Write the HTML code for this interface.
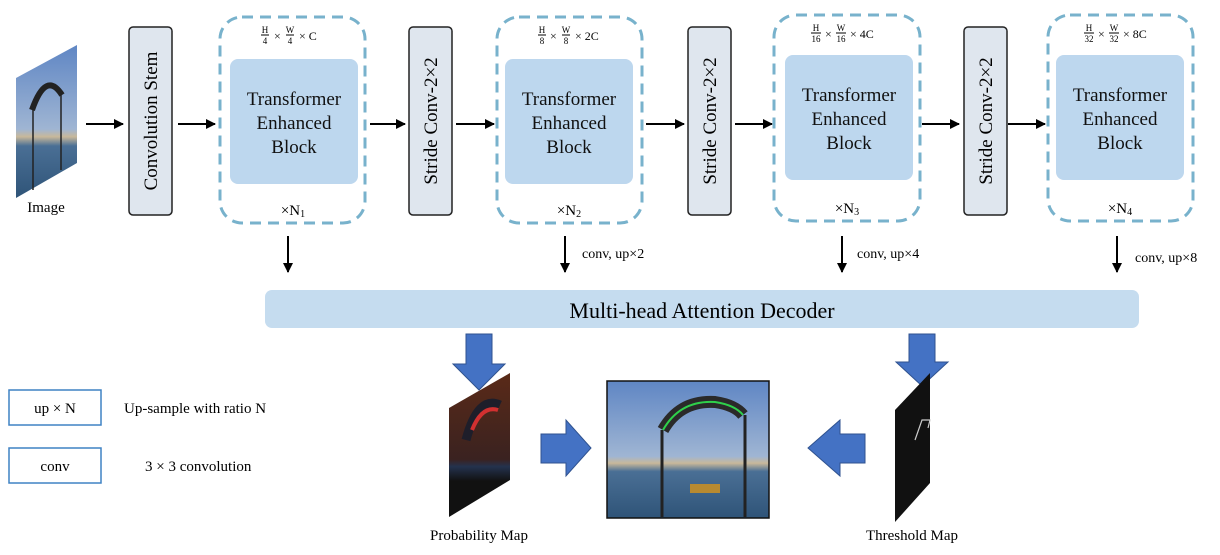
<!DOCTYPE html>
<html><head><meta charset="utf-8"><style>
html,body{margin:0;padding:0;background:#fff;}
svg{display:block;font-family:"Liberation Serif",serif;}
</style></head><body>
<svg width="1220" height="555" viewBox="0 0 1220 555" xmlns="http://www.w3.org/2000/svg">
<defs>
<marker id="ah" markerWidth="10" markerHeight="10" refX="9" refY="5" orient="auto" markerUnits="userSpaceOnUse">
<path d="M0,0 L10,5 L0,10 z" fill="#000"/></marker>
<linearGradient id="sky" x1="0" y1="0" x2="0" y2="1">
<stop offset="0" stop-color="#5f86c4"/><stop offset="0.55" stop-color="#9fb5d3"/><stop offset="0.6" stop-color="#c8b89a"/><stop offset="0.66" stop-color="#4a6f95"/><stop offset="1" stop-color="#2f5478"/></linearGradient>
<linearGradient id="prob" x1="0" y1="0" x2="0" y2="1">
<stop offset="0" stop-color="#5a2a18"/><stop offset="0.6" stop-color="#3a2220"/><stop offset="0.65" stop-color="#24324e"/><stop offset="0.75" stop-color="#111"/><stop offset="1" stop-color="#111"/></linearGradient>
</defs>

<!-- input image -->
<polygon points="16,78 77,45 77,163 16,198" fill="url(#sky)"/>
<path d="M32,110 Q46,70 62,95" stroke="#222" stroke-width="6" fill="none"/>
<line x1="33" y1="110" x2="33" y2="190" stroke="#222" stroke-width="1.5"/>
<line x1="61" y1="95" x2="61" y2="170" stroke="#222" stroke-width="1.5"/>
<text x="46" y="212" font-size="15" text-anchor="middle">Image</text>

<!-- arrows top -->
<g stroke="#000" stroke-width="2" marker-end="url(#ah)">
<line x1="86" y1="124" x2="123" y2="124"/>
<line x1="178" y1="124" x2="215" y2="124"/>
<line x1="370" y1="124" x2="405" y2="124"/>
<line x1="456" y1="124" x2="494" y2="124"/>
<line x1="646" y1="124" x2="684" y2="124"/>
<line x1="735" y1="124" x2="772" y2="124"/>
<line x1="922" y1="124" x2="959" y2="124"/>
<line x1="1008" y1="124" x2="1045" y2="124"/>
<line x1="288" y1="236" x2="288" y2="272"/>
<line x1="565" y1="236" x2="565" y2="272"/>
<line x1="842" y1="236" x2="842" y2="272"/>
<line x1="1117" y1="236" x2="1117" y2="272"/>
</g>

<!-- vertical boxes -->
<g fill="#dfe6ee" stroke="#222" stroke-width="1.5">
<rect x="129" y="27" width="43" height="188" rx="4"/>
<rect x="409" y="27" width="43" height="188" rx="4"/>
<rect x="688" y="27" width="43" height="188" rx="4"/>
<rect x="964" y="27" width="43" height="188" rx="4"/>
</g>
<g font-size="19" text-anchor="middle">
<text transform="translate(157,121) rotate(-90)">Convolution Stem</text>
<text transform="translate(437,121) rotate(-90)">Stride Conv-2×2</text>
<text transform="translate(716,121) rotate(-90)">Stride Conv-2×2</text>
<text transform="translate(992,121) rotate(-90)">Stride Conv-2×2</text>
</g>

<!-- dashed boxes -->
<g fill="none" stroke="#78b2cc" stroke-width="3" stroke-dasharray="11,7">
<rect x="220" y="17" width="145" height="206" rx="22"/>
<rect x="497" y="17" width="145" height="206" rx="22"/>
<rect x="774" y="15" width="146" height="206" rx="22"/>
<rect x="1048" y="15" width="145" height="206" rx="22"/>
</g>
<g fill="#bdd7ee">
<rect x="230" y="59" width="128" height="125" rx="8"/>
<rect x="505" y="59" width="128" height="125" rx="8"/>
<rect x="785" y="55" width="128" height="125" rx="8"/>
<rect x="1056" y="55" width="128" height="125" rx="8"/>
</g>
<g font-size="19" text-anchor="middle" fill="#111">
<text x="294" y="105">Transformer</text><text x="294" y="129">Enhanced</text><text x="294" y="153">Block</text>
<text x="569" y="105">Transformer</text><text x="569" y="129">Enhanced</text><text x="569" y="153">Block</text>
<text x="849" y="101">Transformer</text><text x="849" y="125">Enhanced</text><text x="849" y="149">Block</text>
<text x="1120" y="101">Transformer</text><text x="1120" y="125">Enhanced</text><text x="1120" y="149">Block</text>
</g>
<!-- fractions -->
<g font-size="9" text-anchor="middle">
<text x="265" y="33">H</text><line x1="261" y1="35" x2="269" y2="35" stroke="#000"/><text x="265" y="44">4</text>
<text x="290" y="33">W</text><line x1="286" y1="35" x2="294" y2="35" stroke="#000"/><text x="290" y="44">4</text>
<text x="542" y="33">H</text><line x1="538" y1="35" x2="546" y2="35" stroke="#000"/><text x="542" y="44">8</text>
<text x="566" y="33">W</text><line x1="562" y1="35" x2="570" y2="35" stroke="#000"/><text x="566" y="44">8</text>
<text x="816" y="31">H</text><line x1="811" y1="33" x2="821" y2="33" stroke="#000"/><text x="816" y="42">16</text>
<text x="841" y="31">W</text><line x1="836" y1="33" x2="846" y2="33" stroke="#000"/><text x="841" y="42">16</text>
<text x="1089" y="31">H</text><line x1="1084" y1="33" x2="1094" y2="33" stroke="#000"/><text x="1089" y="42">32</text>
<text x="1114" y="31">W</text><line x1="1109" y1="33" x2="1119" y2="33" stroke="#000"/><text x="1114" y="42">32</text>
</g>
<g font-size="12">
<text x="274" y="40">×</text><text x="299" y="40">× C</text>
<text x="550" y="40">×</text><text x="575" y="40">× 2C</text>
<text x="825" y="38">×</text><text x="850" y="38">× 4C</text>
<text x="1098" y="38">×</text><text x="1123" y="38">× 8C</text>
</g>
<g font-size="15" text-anchor="middle">
<text x="293" y="215">×N<tspan font-size="10" dy="2">1</tspan></text>
<text x="569" y="215">×N<tspan font-size="10" dy="2">2</tspan></text>
<text x="847" y="213">×N<tspan font-size="10" dy="2">3</tspan></text>
<text x="1120" y="213">×N<tspan font-size="10" dy="2">4</tspan></text>
</g>
<g font-size="14">
<text x="582" y="258">conv, up×2</text>
<text x="857" y="258">conv, up×4</text>
<text x="1135" y="262">conv, up×8</text>
</g>

<!-- decoder -->
<rect x="265" y="290" width="874" height="38" rx="7" fill="#c5dcef"/>
<text x="702" y="318" font-size="22" text-anchor="middle">Multi-head Attention Decoder</text>

<!-- big arrows -->
<g fill="#4472c4" stroke="#2f528f" stroke-width="1">
<polygon points="466,334 492,334 492,364 505,364 479,390 453,364 466,364"/>
<polygon points="909,334 935,334 935,362 948,362 922,386 896,362 909,362"/>
<polygon points="541,434 566,434 566,420 591,448 566,476 566,463 541,463"/>
<polygon points="865,434 840,434 840,420 808,448 840,476 840,463 865,463"/>
</g>

<!-- prob map -->
<polygon points="449,408 510,373 510,480 449,517" fill="url(#prob)"/>
<path d="M466,440 Q478,395 500,405" stroke="#1e1e2a" stroke-width="9" fill="none"/>
<path d="M472,430 Q482,405 498,410" stroke="#d23030" stroke-width="4" fill="none"/>
<text x="479" y="540" font-size="15" text-anchor="middle">Probability Map</text>

<!-- center photo -->
<rect x="607" y="381" width="162" height="137" fill="url(#sky)" stroke="#111" stroke-width="1.5"/>
<path d="M663,430 Q680,400 715,402 Q735,405 743,415" stroke="#2a2a2a" stroke-width="12" fill="none"/>
<path d="M663,430 Q680,400 715,402 Q735,405 743,415" stroke="#2fd04a" stroke-width="2" fill="none"/>
<line x1="662" y1="430" x2="662" y2="517" stroke="#222" stroke-width="3"/>
<line x1="745" y1="415" x2="745" y2="517" stroke="#222" stroke-width="3"/>
<rect x="690" y="484" width="30" height="9" fill="#b88a30"/>

<!-- threshold map -->
<polygon points="895,410 930,373 930,483 895,522" fill="#111"/>
<path d="M915,440 L922,420 L930,420 L928,428" stroke="#ccc" stroke-width="1.2" fill="none"/>
<text x="912" y="540" font-size="15" text-anchor="middle">Threshold Map</text>

<!-- legend -->
<g fill="#fff" stroke="#3f82c4" stroke-width="1.5">
<rect x="9" y="390" width="92" height="35"/>
<rect x="9" y="448" width="92" height="35"/>
</g>
<g font-size="15">
<text x="55" y="413" text-anchor="middle">up × N</text>
<text x="55" y="471" text-anchor="middle">conv</text>
<text x="124" y="413">Up-sample with ratio N</text>
<text x="145" y="471">3 × 3 convolution</text>
</g>
</svg>
</body></html>
